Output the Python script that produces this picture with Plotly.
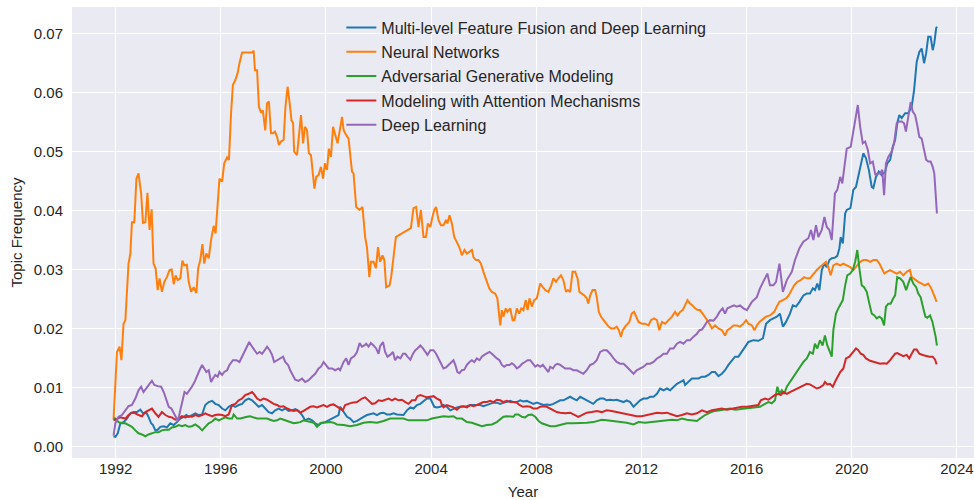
import plotly.graph_objects as go

# ---- data: (decimal year, topic frequency) ----
fusion = [
(1991.92,0.0017),(1991.99,0.0016),(1992.08,0.0022),(1992.18,0.0039),(1992.30,0.0041),(1992.43,0.0047),
(1992.56,0.0056),(1992.68,0.0058),(1992.81,0.0058),(1992.94,0.0062),(1993.04,0.0056),(1993.17,0.0057),
(1993.25,0.0050),(1993.35,0.0039),(1993.42,0.0036),(1993.51,0.0027),(1993.60,0.0028),(1993.70,0.0033),
(1993.83,0.0034),(1993.95,0.0032),(1994.08,0.0039),(1994.21,0.0036),(1994.33,0.0041),(1994.46,0.0047),
(1994.59,0.0050),(1994.69,0.0053),(1994.78,0.0050),(1994.90,0.0053),(1995.03,0.0056),(1995.16,0.0053),
(1995.29,0.0054),(1995.41,0.0070),(1995.54,0.0075),(1995.67,0.0077),(1995.79,0.0072),(1995.92,0.0070),
(1996.05,0.0064),(1996.17,0.0061),(1996.30,0.0067),(1996.43,0.0070),(1996.55,0.0067),(1996.68,0.0070),
(1996.81,0.0072),(1996.93,0.0078),(1997.06,0.0081),(1997.19,0.0078),(1997.31,0.0072),(1997.44,0.0067),
(1997.57,0.0070),(1997.69,0.0064),(1997.82,0.0058),(1997.95,0.0056),(1998.07,0.0061),(1998.20,0.0064),
(1998.33,0.0061),(1998.45,0.0064),(1998.58,0.0060),(1998.71,0.0061),(1998.83,0.0063),(1998.96,0.0060),
(1999.09,0.0053),(1999.21,0.0044),(1999.34,0.0047),(1999.47,0.0044),(1999.59,0.0039),(1999.72,0.0036),
(1999.85,0.0040),(1999.97,0.0041),(2000.10,0.0044),(2000.23,0.0047),(2000.35,0.0050),(2000.48,0.0053),
(2000.54,0.0067),(2000.67,0.0058),(2000.80,0.0050),(2000.92,0.0047),(2001.05,0.0041),(2001.18,0.0043),
(2001.30,0.0047),(2001.43,0.0050),(2001.56,0.0053),(2001.68,0.0054),(2001.81,0.0056),(2001.94,0.0053),
(2002.06,0.0056),(2002.19,0.0057),(2002.32,0.0054),(2002.44,0.0054),(2002.57,0.0056),(2002.70,0.0054),
(2002.83,0.0053),(2002.95,0.0053),(2003.08,0.0061),(2003.21,0.0066),(2003.33,0.0064),(2003.46,0.0070),
(2003.59,0.0072),(2003.71,0.0077),(2003.84,0.0081),(2003.97,0.0081),(2004.03,0.0075),(2004.12,0.0067),
(2004.22,0.0066),(2004.35,0.0067),(2004.47,0.0070),(2004.60,0.0067),(2004.73,0.0061),(2004.85,0.0064),
(2004.98,0.0066),(2005.11,0.0067),(2005.23,0.0067),(2005.36,0.0068),(2005.49,0.0070),(2005.61,0.0070),
(2005.74,0.0071),(2005.87,0.0070),(2005.99,0.0068),(2006.12,0.0070),(2006.25,0.0072),(2006.37,0.0074),
(2006.50,0.0074),(2006.63,0.0072),(2006.75,0.0074),(2006.88,0.0075),(2007.01,0.0077),(2007.13,0.0075),
(2007.26,0.0075),(2007.39,0.0078),(2007.51,0.0076),(2007.64,0.0077),(2007.77,0.0075),(2007.89,0.0072),
(2008.02,0.0074),(2008.15,0.0072),(2008.27,0.0070),(2008.40,0.0071),(2008.53,0.0070),(2008.65,0.0072),
(2008.78,0.0075),(2008.91,0.0078),(2009.03,0.0078),(2009.16,0.0081),(2009.29,0.0084),(2009.41,0.0081),
(2009.54,0.0078),(2009.67,0.0084),(2009.79,0.0081),(2009.92,0.0078),(2010.05,0.0075),(2010.17,0.0072),
(2010.30,0.0078),(2010.43,0.0081),(2010.56,0.0081),(2010.68,0.0078),(2010.81,0.0079),(2010.94,0.0078),
(2011.06,0.0079),(2011.19,0.0077),(2011.32,0.0075),(2011.44,0.0078),(2011.57,0.0075),(2011.70,0.0067),
(2011.82,0.0072),(2011.95,0.0078),(2012.08,0.0081),(2012.21,0.0081),(2012.33,0.0084),(2012.46,0.0084),
(2012.59,0.0089),(2012.71,0.0098),(2012.84,0.0095),(2012.97,0.0098),(2013.09,0.0095),(2013.22,0.0101),
(2013.35,0.0106),(2013.47,0.0109),(2013.60,0.0112),(2013.66,0.0104),(2013.79,0.0109),(2013.92,0.0115),
(2014.04,0.0115),(2014.17,0.0115),(2014.30,0.0118),(2014.42,0.0118),(2014.55,0.0121),(2014.68,0.0126),
(2014.80,0.0126),(2014.93,0.0119),(2015.06,0.0123),(2015.18,0.0129),(2015.31,0.0138),(2015.44,0.0146),
(2015.56,0.0152),(2015.69,0.0152),(2015.82,0.0160),(2015.94,0.0169),(2016.07,0.0177),(2016.26,0.0180),
(2016.45,0.0179),(2016.62,0.0183),(2016.74,0.0208),(2016.89,0.0214),(2017.02,0.0217),(2017.15,0.0220),
(2017.27,0.0225),(2017.38,0.0203),(2017.50,0.0211),(2017.65,0.0225),(2017.76,0.0239),(2017.88,0.0237),
(2018.01,0.0245),(2018.16,0.0256),(2018.29,0.0259),(2018.41,0.0259),(2018.52,0.0268),(2018.60,0.0265),
(2018.69,0.0276),(2018.77,0.0265),(2018.86,0.0299),(2018.96,0.0310),(2019.05,0.0304),(2019.15,0.0316),
(2019.24,0.0319),(2019.36,0.0320),(2019.45,0.0323),(2019.53,0.0336),(2019.58,0.0355),(2019.66,0.0344),
(2019.75,0.0395),(2019.81,0.0401),(2019.95,0.0404),(2020.06,0.0435),(2020.16,0.0440),(2020.25,0.0457),
(2020.34,0.0477),(2020.44,0.0497),(2020.54,0.0489),(2020.65,0.0469),(2020.76,0.0440),(2020.82,0.0438),
(2020.92,0.0457),(2021.03,0.0466),(2021.14,0.0460),(2021.27,0.0466),(2021.35,0.0480),(2021.46,0.0486),
(2021.56,0.0508),(2021.65,0.0520),(2021.73,0.0548),(2021.81,0.0562),(2021.90,0.0557),(2022.03,0.0565),
(2022.15,0.0565),(2022.28,0.0576),(2022.37,0.0604),(2022.47,0.0652),(2022.57,0.0669),(2022.66,0.0675),
(2022.75,0.0650),(2022.83,0.0667),(2022.91,0.0695),(2023.00,0.0695),(2023.08,0.0672),(2023.14,0.0684),
(2023.21,0.0709),(2023.24,0.0712)]

neural = [
(1991.92,0.0045),(1992.05,0.0160),(1992.15,0.0169),(1992.22,0.0146),(1992.30,0.0208),(1992.37,0.0214),
(1992.49,0.0310),(1992.56,0.0327),(1992.62,0.0380),(1992.71,0.0380),(1992.79,0.0454),(1992.87,0.0463),
(1992.97,0.0429),(1993.04,0.0379),(1993.13,0.0380),(1993.21,0.0430),(1993.29,0.0367),(1993.37,0.0402),
(1993.44,0.0310),(1993.52,0.0302),(1993.60,0.0265),(1993.67,0.0285),(1993.76,0.0262),(1993.85,0.0279),
(1993.95,0.0287),(1994.05,0.0299),(1994.13,0.0300),(1994.21,0.0275),(1994.28,0.0290),(1994.36,0.0282),
(1994.46,0.0285),(1994.54,0.0315),(1994.61,0.0307),(1994.71,0.0308),(1994.78,0.0279),(1994.87,0.0262),
(1994.97,0.0270),(1995.07,0.0260),(1995.14,0.0302),(1995.22,0.0316),(1995.30,0.0343),(1995.37,0.0310),
(1995.45,0.0327),(1995.54,0.0319),(1995.63,0.0350),(1995.73,0.0374),(1995.80,0.0361),(1995.88,0.0406),
(1995.95,0.0454),(1996.05,0.0449),(1996.13,0.0480),(1996.24,0.0490),(1996.31,0.0486),(1996.39,0.0565),
(1996.46,0.0613),(1996.55,0.0621),(1996.64,0.0633),(1996.71,0.0650),(1996.81,0.0668),(1996.99,0.0668),
(1997.19,0.0668),(1997.25,0.0671),(1997.30,0.0638),(1997.38,0.0638),(1997.45,0.0576),(1997.53,0.0566),
(1997.60,0.0570),(1997.69,0.0536),(1997.76,0.0582),(1997.83,0.0585),(1997.91,0.0531),(1997.98,0.0531),
(1998.06,0.0534),(1998.14,0.0525),(1998.21,0.0511),(1998.29,0.0517),(1998.39,0.0520),(1998.46,0.0576),
(1998.54,0.0610),(1998.62,0.0582),(1998.69,0.0553),(1998.75,0.0548),(1998.79,0.0500),(1998.90,0.0494),
(1998.97,0.0531),(1999.05,0.0562),(1999.13,0.0514),(1999.20,0.0542),(1999.28,0.0536),(1999.35,0.0497),
(1999.43,0.0494),(1999.51,0.0463),(1999.56,0.0437),(1999.63,0.0457),(1999.72,0.0460),(1999.81,0.0474),
(1999.89,0.0454),(1999.96,0.0480),(2000.04,0.0469),(2000.11,0.0505),(2000.19,0.0491),(2000.27,0.0542),
(2000.35,0.0528),(2000.44,0.0514),(2000.52,0.0534),(2000.61,0.0559),(2000.67,0.0537),(2000.73,0.0531),
(2000.86,0.0522),(2000.99,0.0466),(2001.05,0.0463),(2001.15,0.0406),(2001.28,0.0401),(2001.39,0.0406),
(2001.49,0.0355),(2001.56,0.0338),(2001.65,0.0287),(2001.71,0.0313),(2001.81,0.0313),(2001.90,0.0302),
(2001.98,0.0338),(2002.06,0.0313),(2002.15,0.0324),(2002.22,0.0316),(2002.29,0.0270),(2002.42,0.0273),
(2002.48,0.0287),(2002.57,0.0324),(2002.66,0.0355),(2002.76,0.0358),(2002.89,0.0361),(2003.02,0.0364),
(2003.14,0.0367),(2003.23,0.0370),(2003.33,0.0404),(2003.43,0.0406),(2003.52,0.0372),(2003.61,0.0401),
(2003.71,0.0355),(2003.80,0.0355),(2003.88,0.0378),(2003.97,0.0372),(2004.05,0.0389),(2004.12,0.0401),
(2004.19,0.0406),(2004.28,0.0384),(2004.37,0.0375),(2004.47,0.0375),(2004.57,0.0384),(2004.62,0.0378),
(2004.70,0.0392),(2004.79,0.0378),(2004.88,0.0355),(2004.98,0.0347),(2005.07,0.0338),(2005.17,0.0324),
(2005.27,0.0333),(2005.36,0.0327),(2005.45,0.0330),(2005.55,0.0333),(2005.61,0.0321),(2005.70,0.0316),
(2005.80,0.0316),(2005.89,0.0310),(2005.99,0.0296),(2006.09,0.0282),(2006.21,0.0268),(2006.31,0.0262),
(2006.44,0.0259),(2006.52,0.0251),(2006.58,0.0220),(2006.63,0.0205),(2006.69,0.0231),(2006.75,0.0220),
(2006.84,0.0234),(2006.90,0.0228),(2007.01,0.0234),(2007.10,0.0214),(2007.17,0.0214),(2007.26,0.0234),
(2007.35,0.0225),(2007.43,0.0234),(2007.51,0.0231),(2007.60,0.0248),(2007.67,0.0231),(2007.74,0.0251),
(2007.83,0.0237),(2007.92,0.0248),(2008.02,0.0251),(2008.15,0.0276),(2008.25,0.0270),(2008.34,0.0265),
(2008.46,0.0262),(2008.57,0.0273),(2008.65,0.0285),(2008.75,0.0279),(2008.84,0.0285),(2008.94,0.0290),
(2009.03,0.0282),(2009.13,0.0262),(2009.20,0.0265),(2009.29,0.0262),(2009.38,0.0296),(2009.48,0.0296),
(2009.57,0.0285),(2009.64,0.0262),(2009.73,0.0259),(2009.83,0.0256),(2009.92,0.0251),(2009.98,0.0242),
(2010.05,0.0256),(2010.14,0.0265),(2010.24,0.0265),(2010.30,0.0253),(2010.38,0.0228),(2010.46,0.0220),
(2010.56,0.0214),(2010.66,0.0208),(2010.75,0.0203),(2010.85,0.0200),(2010.96,0.0200),(2011.06,0.0203),
(2011.14,0.0197),(2011.22,0.0186),(2011.29,0.0197),(2011.38,0.0203),(2011.47,0.0208),(2011.54,0.0211),
(2011.63,0.0225),(2011.72,0.0228),(2011.80,0.0220),(2011.89,0.0211),(2012.02,0.0208),(2012.14,0.0208),
(2012.27,0.0205),(2012.36,0.0214),(2012.48,0.0217),(2012.59,0.0214),(2012.68,0.0197),(2012.78,0.0211),
(2012.90,0.0208),(2013.03,0.0214),(2013.16,0.0220),(2013.28,0.0228),(2013.37,0.0222),(2013.47,0.0228),
(2013.57,0.0231),(2013.66,0.0239),(2013.75,0.0248),(2013.85,0.0242),(2013.94,0.0239),(2014.04,0.0234),
(2014.14,0.0231),(2014.23,0.0231),(2014.33,0.0225),(2014.42,0.0220),(2014.55,0.0211),(2014.68,0.0200),
(2014.80,0.0205),(2014.93,0.0200),(2015.06,0.0197),(2015.18,0.0188),(2015.27,0.0197),(2015.37,0.0200),
(2015.50,0.0205),(2015.63,0.0205),(2015.75,0.0203),(2015.88,0.0208),(2015.98,0.0214),(2016.07,0.0208),
(2016.20,0.0205),(2016.30,0.0197),(2016.39,0.0205),(2016.49,0.0211),(2016.58,0.0214),(2016.74,0.0220),
(2016.89,0.0222),(2017.05,0.0228),(2017.15,0.0237),(2017.25,0.0245),(2017.38,0.0248),(2017.50,0.0251),
(2017.60,0.0256),(2017.72,0.0265),(2017.81,0.0273),(2017.93,0.0279),(2018.06,0.0282),(2018.19,0.0287),
(2018.29,0.0285),(2018.41,0.0285),(2018.54,0.0293),(2018.67,0.0299),(2018.79,0.0304),(2018.92,0.0310),
(2019.02,0.0313),(2019.11,0.0304),(2019.20,0.0290),(2019.30,0.0307),(2019.43,0.0310),(2019.56,0.0307),
(2019.68,0.0310),(2019.81,0.0307),(2019.94,0.0304),(2020.06,0.0299),(2020.19,0.0307),(2020.32,0.0313),
(2020.44,0.0316),(2020.57,0.0316),(2020.70,0.0313),(2020.82,0.0316),(2020.95,0.0316),(2021.05,0.0310),
(2021.14,0.0302),(2021.24,0.0293),(2021.33,0.0296),(2021.46,0.0299),(2021.58,0.0296),(2021.71,0.0293),
(2021.84,0.0296),(2021.96,0.0290),(2022.09,0.0296),(2022.21,0.0299),(2022.28,0.0287),(2022.41,0.0282),
(2022.53,0.0279),(2022.66,0.0276),(2022.78,0.0273),(2022.91,0.0276),(2023.00,0.0270),(2023.08,0.0262),
(2023.17,0.0253),(2023.23,0.0245)]

adversarial = [
(1991.92,0.0047),(1991.99,0.0047),(1992.11,0.0041),(1992.24,0.0039),(1992.37,0.0039),(1992.49,0.0036),
(1992.62,0.0033),(1992.75,0.0027),(1992.87,0.0022),(1993.00,0.0020),(1993.13,0.0017),(1993.25,0.0020),
(1993.38,0.0022),(1993.51,0.0024),(1993.63,0.0024),(1993.76,0.0027),(1993.89,0.0028),(1994.02,0.0028),
(1994.14,0.0032),(1994.27,0.0033),(1994.40,0.0036),(1994.52,0.0034),(1994.65,0.0036),(1994.78,0.0033),
(1994.90,0.0034),(1995.03,0.0037),(1995.16,0.0033),(1995.29,0.0027),(1995.41,0.0033),(1995.54,0.0039),
(1995.67,0.0042),(1995.79,0.0047),(1995.92,0.0044),(1996.05,0.0047),(1996.17,0.0049),(1996.30,0.0047),
(1996.43,0.0047),(1996.49,0.0054),(1996.62,0.0047),(1996.74,0.0047),(1996.87,0.0049),(1997.00,0.0050),
(1997.12,0.0051),(1997.25,0.0049),(1997.38,0.0047),(1997.50,0.0047),(1997.63,0.0047),(1997.76,0.0047),
(1997.88,0.0045),(1998.01,0.0043),(1998.14,0.0044),(1998.26,0.0047),(1998.39,0.0045),(1998.52,0.0043),
(1998.64,0.0041),(1998.77,0.0039),(1998.90,0.0040),(1999.02,0.0041),(1999.15,0.0044),(1999.28,0.0043),
(1999.40,0.0042),(1999.53,0.0040),(1999.66,0.0033),(1999.78,0.0039),(1999.91,0.0040),(2000.04,0.0041),
(2000.16,0.0041),(2000.29,0.0040),(2000.42,0.0037),(2000.67,0.0036),(2000.92,0.0034),(2001.18,0.0036),
(2001.43,0.0040),(2001.68,0.0041),(2001.94,0.0040),(2002.19,0.0043),(2002.44,0.0047),(2002.70,0.0047),
(2002.95,0.0047),(2003.14,0.0044),(2003.33,0.0044),(2003.59,0.0043),(2003.84,0.0044),(2004.03,0.0047),
(2004.22,0.0049),(2004.47,0.0051),(2004.66,0.0050),(2004.85,0.0051),(2004.98,0.0047),(2005.17,0.0047),
(2005.36,0.0041),(2005.55,0.0040),(2005.74,0.0037),(2005.93,0.0034),(2006.12,0.0036),(2006.31,0.0037),
(2006.50,0.0041),(2006.63,0.0045),(2006.75,0.0050),(2006.88,0.0051),(2007.01,0.0051),(2007.13,0.0050),
(2007.20,0.0054),(2007.32,0.0054),(2007.45,0.0050),(2007.58,0.0049),(2007.70,0.0053),(2007.83,0.0054),
(2007.96,0.0050),(2008.09,0.0043),(2008.21,0.0039),(2008.34,0.0037),(2008.53,0.0034),(2008.72,0.0034),
(2008.91,0.0036),(2009.16,0.0039),(2009.41,0.0039),(2009.67,0.0039),(2009.92,0.0040),(2010.17,0.0041),
(2010.36,0.0044),(2010.49,0.0045),(2010.68,0.0044),(2010.94,0.0043),(2011.19,0.0041),(2011.44,0.0040),
(2011.70,0.0037),(2011.89,0.0041),(2012.14,0.0040),(2012.40,0.0041),(2012.65,0.0043),(2012.90,0.0043),
(2013.16,0.0045),(2013.35,0.0044),(2013.54,0.0047),(2013.73,0.0045),(2013.92,0.0044),(2014.11,0.0043),
(2014.23,0.0047),(2014.42,0.0053),(2014.61,0.0057),(2014.80,0.0060),(2014.99,0.0061),(2015.18,0.0062),
(2015.37,0.0064),(2015.56,0.0062),(2015.75,0.0063),(2015.94,0.0064),(2016.13,0.0064),(2016.32,0.0066),
(2016.51,0.0067),(2016.70,0.0072),(2016.83,0.0075),(2016.96,0.0073),(2017.08,0.0078),(2017.17,0.0101),
(2017.25,0.0089),(2017.34,0.0095),(2017.43,0.0089),(2017.53,0.0101),(2017.65,0.0109),(2017.78,0.0118),
(2017.91,0.0126),(2018.03,0.0135),(2018.16,0.0143),(2018.29,0.0149),(2018.41,0.0160),(2018.52,0.0157),
(2018.60,0.0174),(2018.69,0.0166),(2018.79,0.0180),(2018.89,0.0171),(2018.98,0.0188),(2019.07,0.0171),
(2019.15,0.0163),(2019.24,0.0152),(2019.30,0.0197),(2019.40,0.0225),(2019.49,0.0234),(2019.58,0.0242),
(2019.66,0.0248),(2019.75,0.0273),(2019.83,0.0290),(2019.94,0.0293),(2020.04,0.0299),(2020.13,0.0313),
(2020.21,0.0333),(2020.29,0.0302),(2020.38,0.0273),(2020.47,0.0270),(2020.57,0.0262),(2020.67,0.0242),
(2020.76,0.0225),(2020.86,0.0222),(2020.95,0.0217),(2021.05,0.0220),(2021.14,0.0217),(2021.23,0.0205),
(2021.30,0.0237),(2021.39,0.0242),(2021.48,0.0242),(2021.58,0.0251),(2021.65,0.0256),(2021.73,0.0287),
(2021.84,0.0285),(2021.96,0.0279),(2022.07,0.0265),(2022.15,0.0276),(2022.24,0.0287),(2022.34,0.0276),
(2022.45,0.0270),(2022.53,0.0259),(2022.62,0.0253),(2022.72,0.0234),(2022.80,0.0220),(2022.87,0.0218),
(2022.98,0.0222),(2023.07,0.0211),(2023.14,0.0197),(2023.19,0.0186),(2023.24,0.0171)]

attention = [
(1991.92,0.0044),(1992.05,0.0047),(1992.18,0.0049),(1992.37,0.0047),(1992.49,0.0053),(1992.62,0.0057),
(1992.75,0.0056),(1992.87,0.0053),(1993.00,0.0051),(1993.13,0.0058),(1993.25,0.0061),(1993.38,0.0064),
(1993.51,0.0056),(1993.63,0.0050),(1993.76,0.0058),(1993.89,0.0053),(1994.02,0.0050),(1994.14,0.0049),
(1994.27,0.0045),(1994.40,0.0047),(1994.52,0.0051),(1994.65,0.0049),(1994.78,0.0051),(1994.90,0.0050),
(1995.03,0.0053),(1995.16,0.0051),(1995.29,0.0053),(1995.41,0.0056),(1995.54,0.0053),(1995.67,0.0051),
(1995.79,0.0053),(1995.92,0.0054),(1996.05,0.0053),(1996.17,0.0051),(1996.30,0.0054),(1996.43,0.0070),
(1996.55,0.0072),(1996.68,0.0078),(1996.81,0.0081),(1996.93,0.0087),(1997.06,0.0089),(1997.19,0.0092),
(1997.27,0.0088),(1997.38,0.0081),(1997.50,0.0078),(1997.63,0.0081),(1997.76,0.0079),(1997.88,0.0075),
(1998.01,0.0072),(1998.14,0.0070),(1998.26,0.0067),(1998.39,0.0068),(1998.52,0.0064),(1998.64,0.0062),
(1998.77,0.0060),(1998.90,0.0061),(1999.02,0.0057),(1999.15,0.0060),(1999.28,0.0064),(1999.40,0.0067),
(1999.53,0.0068),(1999.66,0.0066),(1999.78,0.0068),(1999.91,0.0070),(2000.04,0.0067),(2000.16,0.0070),
(2000.29,0.0071),(2000.42,0.0068),(2000.54,0.0064),(2000.64,0.0061),(2000.73,0.0070),(2000.86,0.0072),
(2000.99,0.0074),(2001.18,0.0075),(2001.37,0.0081),(2001.49,0.0083),(2001.62,0.0078),(2001.75,0.0072),
(2001.87,0.0073),(2002.00,0.0078),(2002.13,0.0077),(2002.25,0.0079),(2002.38,0.0081),(2002.51,0.0078),
(2002.63,0.0081),(2002.76,0.0078),(2002.89,0.0079),(2003.02,0.0075),(2003.14,0.0072),(2003.27,0.0078),
(2003.40,0.0078),(2003.48,0.0085),(2003.59,0.0087),(2003.71,0.0085),(2003.84,0.0083),(2003.97,0.0084),
(2004.09,0.0085),(2004.22,0.0081),(2004.35,0.0078),(2004.41,0.0070),(2004.47,0.0066),(2004.60,0.0070),
(2004.73,0.0068),(2004.85,0.0066),(2004.98,0.0062),(2005.11,0.0067),(2005.23,0.0068),(2005.36,0.0066),
(2005.49,0.0070),(2005.61,0.0068),(2005.74,0.0070),(2005.87,0.0072),(2005.99,0.0075),(2006.12,0.0075),
(2006.25,0.0077),(2006.37,0.0075),(2006.50,0.0079),(2006.63,0.0078),(2006.75,0.0075),(2006.88,0.0077),
(2007.01,0.0075),(2007.13,0.0075),(2007.26,0.0074),(2007.36,0.0070),(2007.49,0.0067),(2007.64,0.0068),
(2007.77,0.0067),(2007.89,0.0064),(2008.02,0.0064),(2008.15,0.0067),(2008.27,0.0068),(2008.40,0.0067),
(2008.53,0.0064),(2008.65,0.0061),(2008.78,0.0058),(2008.91,0.0057),(2009.10,0.0056),(2009.29,0.0057),
(2009.48,0.0053),(2009.60,0.0050),(2009.73,0.0053),(2009.92,0.0057),(2010.11,0.0058),(2010.30,0.0060),
(2010.49,0.0058),(2010.68,0.0061),(2010.87,0.0060),(2011.06,0.0058),(2011.25,0.0057),(2011.44,0.0054),
(2011.63,0.0053),(2011.82,0.0051),(2012.01,0.0051),(2012.21,0.0053),(2012.40,0.0054),(2012.59,0.0057),
(2012.78,0.0056),(2012.97,0.0057),(2013.16,0.0054),(2013.35,0.0051),(2013.54,0.0053),(2013.73,0.0056),
(2013.92,0.0054),(2014.11,0.0056),(2014.30,0.0061),(2014.49,0.0058),(2014.68,0.0061),(2014.87,0.0062),
(2015.06,0.0064),(2015.25,0.0062),(2015.44,0.0064),(2015.63,0.0066),(2015.82,0.0067),(2016.01,0.0067),
(2016.26,0.0068),(2016.45,0.0070),(2016.54,0.0078),(2016.70,0.0081),(2016.83,0.0079),(2016.96,0.0084),
(2017.08,0.0087),(2017.21,0.0089),(2017.30,0.0087),(2017.40,0.0092),(2017.53,0.0089),(2017.65,0.0092),
(2017.78,0.0095),(2017.91,0.0098),(2018.03,0.0101),(2018.16,0.0104),(2018.29,0.0106),(2018.41,0.0105),
(2018.54,0.0101),(2018.67,0.0098),(2018.79,0.0100),(2018.92,0.0104),(2018.98,0.0109),(2019.07,0.0105),
(2019.17,0.0106),(2019.28,0.0101),(2019.36,0.0109),(2019.45,0.0118),(2019.56,0.0126),(2019.68,0.0132),
(2019.78,0.0149),(2019.91,0.0152),(2020.04,0.0160),(2020.16,0.0166),(2020.25,0.0163),(2020.34,0.0157),
(2020.44,0.0155),(2020.54,0.0149),(2020.70,0.0145),(2020.82,0.0143),(2020.95,0.0141),(2021.08,0.0140),
(2021.20,0.0141),(2021.33,0.0140),(2021.46,0.0146),(2021.56,0.0152),(2021.65,0.0157),(2021.73,0.0158),
(2021.84,0.0155),(2021.96,0.0153),(2022.09,0.0155),(2022.19,0.0149),(2022.28,0.0157),(2022.37,0.0164),
(2022.47,0.0164),(2022.57,0.0157),(2022.70,0.0155),(2022.83,0.0153),(2022.95,0.0152),(2023.08,0.0152),
(2023.17,0.0147),(2023.23,0.0139)]

deep = [
(1991.92,0.0018),(1991.99,0.0039),(1992.11,0.0050),(1992.24,0.0053),(1992.37,0.0061),(1992.49,0.0068),
(1992.62,0.0070),(1992.75,0.0081),(1992.87,0.0095),(1992.97,0.0101),(1993.06,0.0092),(1993.19,0.0101),
(1993.29,0.0106),(1993.38,0.0111),(1993.47,0.0104),(1993.60,0.0102),(1993.73,0.0101),(1993.83,0.0092),
(1993.93,0.0078),(1994.02,0.0067),(1994.12,0.0064),(1994.21,0.0056),(1994.31,0.0047),(1994.37,0.0043),
(1994.46,0.0061),(1994.56,0.0078),(1994.62,0.0092),(1994.71,0.0089),(1994.81,0.0095),(1994.90,0.0101),
(1995.00,0.0109),(1995.10,0.0121),(1995.19,0.0129),(1995.29,0.0138),(1995.37,0.0132),(1995.45,0.0126),
(1995.54,0.0129),(1995.63,0.0109),(1995.70,0.0115),(1995.79,0.0121),(1995.88,0.0118),(1995.95,0.0126),
(1996.05,0.0121),(1996.13,0.0126),(1996.24,0.0129),(1996.33,0.0138),(1996.46,0.0146),(1996.59,0.0146),
(1996.71,0.0143),(1996.84,0.0155),(1996.97,0.0169),(1997.08,0.0177),(1997.19,0.0169),(1997.27,0.0163),
(1997.38,0.0157),(1997.48,0.0160),(1997.57,0.0157),(1997.67,0.0163),(1997.76,0.0169),(1997.86,0.0163),
(1997.95,0.0155),(1998.03,0.0143),(1998.14,0.0146),(1998.26,0.0149),(1998.37,0.0152),(1998.45,0.0143),
(1998.56,0.0138),(1998.64,0.0129),(1998.75,0.0118),(1998.83,0.0113),(1998.96,0.0111),(1999.09,0.0115),
(1999.21,0.0109),(1999.34,0.0112),(1999.47,0.0118),(1999.59,0.0123),(1999.72,0.0132),(1999.81,0.0135),
(1999.91,0.0143),(2000.00,0.0138),(2000.10,0.0132),(2000.23,0.0132),(2000.35,0.0129),(2000.48,0.0132),
(2000.54,0.0129),(2000.67,0.0143),(2000.77,0.0149),(2000.86,0.0138),(2000.95,0.0149),(2001.08,0.0153),
(2001.18,0.0160),(2001.28,0.0175),(2001.37,0.0169),(2001.46,0.0171),(2001.53,0.0174),(2001.62,0.0169),
(2001.71,0.0175),(2001.81,0.0171),(2001.91,0.0166),(2002.00,0.0157),(2002.06,0.0170),(2002.17,0.0177),
(2002.25,0.0160),(2002.34,0.0152),(2002.44,0.0155),(2002.55,0.0160),(2002.63,0.0146),(2002.72,0.0152),
(2002.83,0.0149),(2002.93,0.0157),(2003.02,0.0157),(2003.10,0.0152),(2003.21,0.0147),(2003.31,0.0157),
(2003.40,0.0163),(2003.48,0.0166),(2003.59,0.0171),(2003.69,0.0166),(2003.78,0.0160),(2003.86,0.0155),
(2003.97,0.0163),(2004.09,0.0163),(2004.19,0.0157),(2004.28,0.0149),(2004.37,0.0140),(2004.47,0.0132),
(2004.57,0.0134),(2004.66,0.0138),(2004.75,0.0143),(2004.85,0.0146),(2004.92,0.0138),(2005.00,0.0126),
(2005.08,0.0124),(2005.17,0.0129),(2005.26,0.0130),(2005.36,0.0138),(2005.46,0.0143),(2005.55,0.0146),
(2005.64,0.0143),(2005.74,0.0149),(2005.84,0.0146),(2005.93,0.0152),(2006.02,0.0155),(2006.12,0.0157),
(2006.22,0.0160),(2006.31,0.0157),(2006.40,0.0153),(2006.50,0.0149),(2006.60,0.0146),(2006.69,0.0138),
(2006.78,0.0135),(2006.88,0.0138),(2006.98,0.0138),(2007.07,0.0141),(2007.16,0.0138),(2007.26,0.0132),
(2007.36,0.0135),(2007.46,0.0140),(2007.57,0.0143),(2007.67,0.0146),(2007.77,0.0146),(2007.87,0.0140),
(2007.96,0.0135),(2008.05,0.0138),(2008.15,0.0135),(2008.25,0.0138),(2008.34,0.0132),(2008.46,0.0126),
(2008.53,0.0135),(2008.63,0.0132),(2008.72,0.0138),(2008.81,0.0140),(2008.91,0.0138),(2009.01,0.0135),
(2009.10,0.0132),(2009.19,0.0132),(2009.29,0.0132),(2009.41,0.0129),(2009.54,0.0129),(2009.67,0.0126),
(2009.79,0.0123),(2009.92,0.0129),(2010.05,0.0138),(2010.17,0.0140),(2010.30,0.0146),(2010.43,0.0160),
(2010.56,0.0163),(2010.68,0.0163),(2010.81,0.0157),(2010.94,0.0149),(2011.06,0.0143),(2011.19,0.0140),
(2011.32,0.0140),(2011.44,0.0135),(2011.57,0.0129),(2011.70,0.0123),(2011.82,0.0129),(2011.95,0.0132),
(2012.08,0.0135),(2012.21,0.0140),(2012.33,0.0140),(2012.46,0.0143),(2012.59,0.0149),(2012.71,0.0152),
(2012.84,0.0157),(2012.97,0.0157),(2013.09,0.0166),(2013.22,0.0166),(2013.35,0.0174),(2013.47,0.0177),
(2013.60,0.0174),(2013.73,0.0180),(2013.85,0.0180),(2013.98,0.0186),(2014.11,0.0191),(2014.21,0.0197),
(2014.30,0.0198),(2014.38,0.0203),(2014.49,0.0211),(2014.61,0.0214),(2014.74,0.0213),(2014.87,0.0220),
(2014.97,0.0228),(2015.09,0.0234),(2015.18,0.0225),(2015.27,0.0234),(2015.40,0.0237),(2015.52,0.0239),
(2015.63,0.0237),(2015.75,0.0239),(2015.88,0.0234),(2016.01,0.0231),(2016.20,0.0245),(2016.39,0.0253),
(2016.51,0.0268),(2016.70,0.0287),(2016.79,0.0293),(2016.89,0.0273),(2017.02,0.0273),(2017.12,0.0279),
(2017.25,0.0310),(2017.38,0.0262),(2017.53,0.0282),(2017.72,0.0296),(2017.84,0.0316),(2018.01,0.0336),
(2018.16,0.0347),(2018.35,0.0353),(2018.45,0.0367),(2018.54,0.0350),(2018.64,0.0375),(2018.73,0.0355),
(2018.86,0.0367),(2018.96,0.0389),(2019.05,0.0372),(2019.15,0.0367),(2019.24,0.0350),(2019.36,0.0429),
(2019.45,0.0435),(2019.56,0.0457),(2019.64,0.0446),(2019.72,0.0474),(2019.81,0.0505),(2019.96,0.0508),
(2020.06,0.0537),(2020.16,0.0559),(2020.23,0.0579),(2020.32,0.0542),(2020.42,0.0514),(2020.51,0.0517),
(2020.61,0.0503),(2020.70,0.0480),(2020.80,0.0483),(2020.90,0.0460),(2020.97,0.0463),(2021.08,0.0463),
(2021.16,0.0469),(2021.23,0.0426),(2021.30,0.0480),(2021.39,0.0491),(2021.52,0.0500),(2021.61,0.0514),
(2021.71,0.0548),(2021.81,0.0551),(2021.90,0.0551),(2021.99,0.0548),(2022.06,0.0534),(2022.15,0.0559),
(2022.24,0.0584),(2022.32,0.0568),(2022.41,0.0562),(2022.49,0.0545),(2022.57,0.0525),(2022.66,0.0522),
(2022.75,0.0503),(2022.83,0.0486),(2022.91,0.0483),(2023.00,0.0483),(2023.08,0.0474),(2023.14,0.0463),
(2023.19,0.0429),(2023.24,0.0395)]

series_names = ["Multi-level Feature Fusion and Deep Learning", "Neural Networks",
                "Adversarial Generative Modeling", "Modeling with Attention Mechanisms", "Deep Learning"]
series_data = [fusion, neural, adversarial, attention, deep]
series_colors = ["#1f77b4", "#ff7f0e", "#2ca02c", "#d62728", "#9467bd"]

x_ticks = [1992, 1996, 2000, 2004, 2008, 2012, 2016, 2020, 2024]
y_ticks = [0.00, 0.01, 0.02, 0.03, 0.04, 0.05, 0.06, 0.07]

fig = go.Figure()
for i, (name, data, color) in enumerate(zip(series_names, series_data, series_colors)):
    xs = [p[0] for p in data]
    ys = [p[1] for p in data]
    fig.add_trace(go.Scatter(x=xs, y=ys, mode="lines", name=name,
                             line=dict(color=color, width=2), legendgroup=f"g{i}"))

txt = "#262626"
fig.update_layout(
    width=974, height=500,
    margin=dict(l=72, r=0, t=7, b=42),
    paper_bgcolor="white", plot_bgcolor="#EAEAF2",
    font=dict(family="Liberation Sans, Arial, sans-serif", size=15, color=txt),
    showlegend=True,
    legend=dict(x=0.2986, y=0.992, xanchor="left", yanchor="top",
                bgcolor="rgba(0,0,0,0)", borderwidth=0,
                font=dict(size=16, color=txt), tracegroupgap=0.5),
    xaxis=dict(range=[1990.34, 2024.65], tickvals=x_ticks, ticktext=[str(t) for t in x_ticks],
               showgrid=True, gridcolor="white", gridwidth=1, zeroline=False, showline=False,
               ticks="", ticklabelstandoff=0, automargin=False,
               tickfont=dict(size=15),
               title=dict(text="Year", font=dict(size=15), standoff=14)),
    yaxis=dict(range=[-0.00199, 0.07453], tickvals=y_ticks, ticktext=[f"{t:.2f}" for t in y_ticks],
               showgrid=True, gridcolor="white", gridwidth=1, zeroline=False, showline=False,
               ticks="", ticklabelstandoff=8, automargin=False,
               tickfont=dict(size=15),
               title=dict(text="Topic Frequency", font=dict(size=15), standoff=7)),
)

fig.write_html("out.html", config={"displayModeBar": False},
               post_script="document.body.style.margin='0';document.body.style.overflow='hidden';")
